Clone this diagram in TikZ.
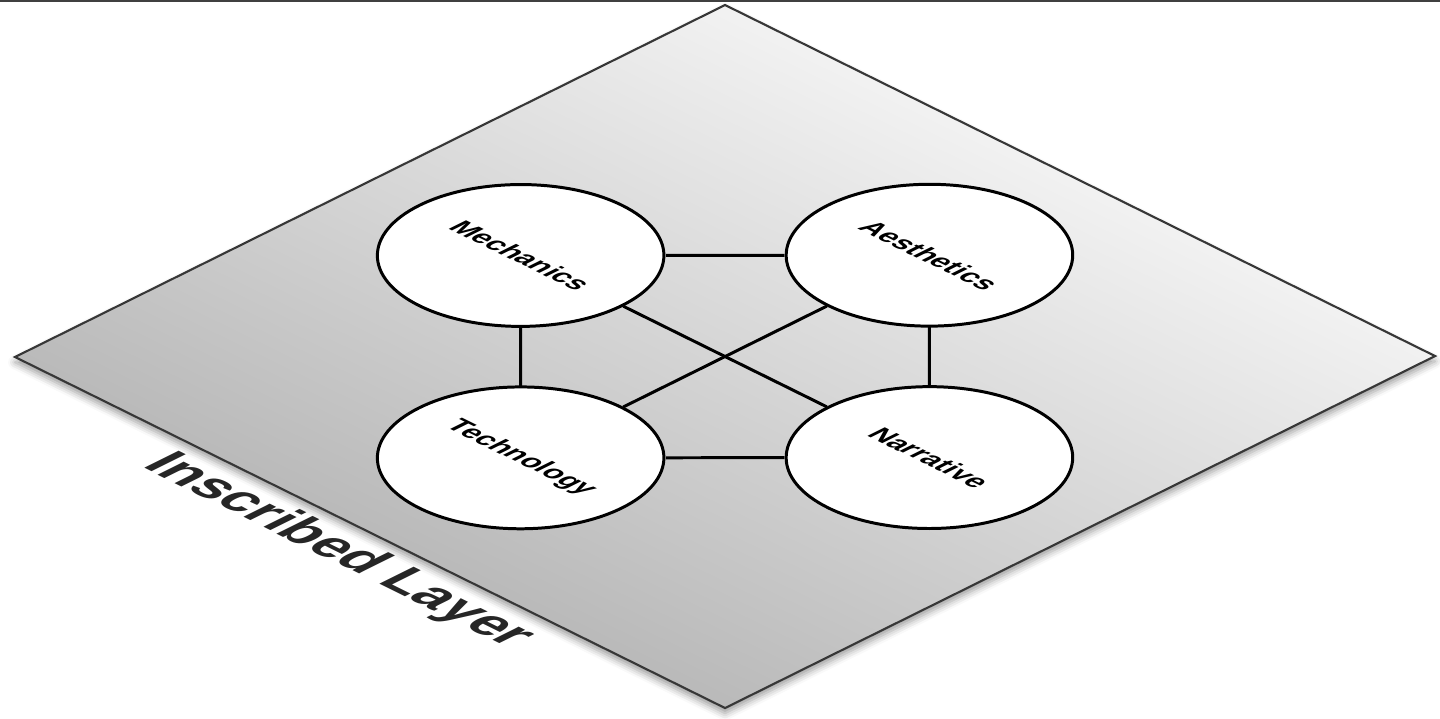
\documentclass[tikz,border=0pt]{standalone}
\usepackage{fontspec}
\setmainfont{Liberation Sans}
\usetikzlibrary{shapes,positioning,calc,shadows.blur}
\definecolor{layerGray}{RGB}{172,172,172}
\definecolor{edgeGray}{RGB}{55,55,55}
\tikzset{
  topic/.style={circle, draw, fill=white, line width=0.85pt, minimum size=2.26cm,
    inner sep=0pt, font=\fontsize{8}{10}\selectfont\bfseries, transform shape},
  link/.style={line width=0.85pt},
  layerlabel/.style={font=\fontsize{15.8}{19}\selectfont\bfseries, text=black!85,
    inner sep=0pt, transform shape}
}

\begin{document}
\begin{tikzpicture}
        \useasboundingbox (0,0) rectangle (14.4,7.18);
        % --- rule along the top edge ---
        \draw[black!75, line width=0.8pt] (0,7.17) -- (14.4,7.17);
        % --- the layer, drawn in its own plane ---
        \begin{scope}[cm={0.8965,-0.4432,0.8965,0.4444,(0.15,3.61)}]
          \coordinate (cL) at (0,0);
          \coordinate (cB) at (7.92,0);
          \coordinate (cR) at (7.92,7.92);
          \coordinate (cT) at (0,7.92);
          \shade[top color=white, bottom color=layerGray, shading angle=-26,
            draw=edgeGray, line width=0.6pt,
            blur shadow={shadow xshift=0pt, shadow yshift=-1.5pt, shadow blur radius=2pt}]
            (cL) -- (cB) -- (cR) -- (cT) -- cycle;
          % Topics
          \node[topic] (mech) at (1.68,3.96) {Mechanics};
          \node[topic] (aest) at (3.96,6.24) {Aesthetics};
          \node[topic] (tech) at (3.96,1.68) {Technology};
          \node[topic] (narr) at (6.24,3.96) {Narrative};
          % Links
          \draw[link] (mech) -- (aest);
          \draw[link] (mech) -- (tech);
          \draw[link] (aest) -- (narr);
          \draw[link] (tech) -- (narr);
          \draw[link] (mech) -- (narr);
          \draw[link] (aest) -- (tech);
          % Caption along the lower edge
          \node[layerlabel, anchor=base west] (layer) at (1.93,-0.53) {Inscribed Layer};
        \end{scope}
      \end{tikzpicture}
\end{document}
